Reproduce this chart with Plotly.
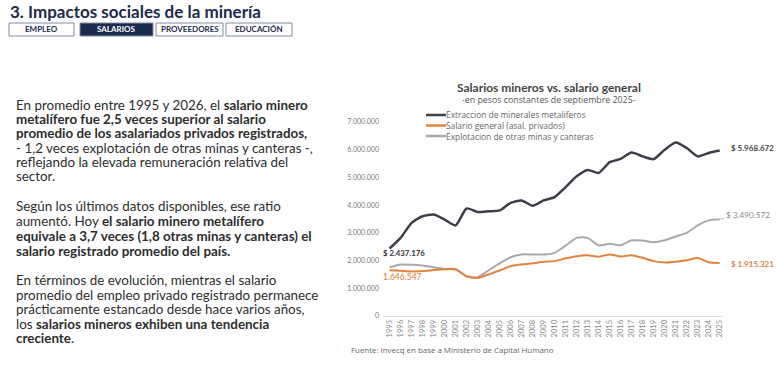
import plotly.graph_objects as go

years = list(range(1995, 2026))
metaliferos = [2437176, 2820000, 3360000, 3600000, 3660000, 3480000, 3270000, 3880000, 3750000, 3780000,
               3810000, 4080000, 4170000, 3980000, 4170000, 4290000, 4650000, 5040000, 5270000, 5160000,
               5550000, 5670000, 5900000, 5760000, 5660000, 6000000, 6260000, 6060000, 5760000, 5880000, 5968672]
salario_general = [1646547, 1630000, 1610000, 1620000, 1660000, 1690000, 1680000, 1440000, 1370000, 1500000,
                   1640000, 1800000, 1860000, 1900000, 1960000, 1980000, 2080000, 2160000, 2190000, 2140000,
                   2220000, 2150000, 2190000, 2100000, 1980000, 1930000, 1960000, 2010000, 2090000, 1940000, 1915321]
otras_minas = [1760000, 1860000, 1850000, 1820000, 1760000, 1700000, 1700000, 1420000, 1400000, 1650000,
               1900000, 2120000, 2220000, 2220000, 2220000, 2280000, 2540000, 2820000, 2820000, 2550000,
               2610000, 2550000, 2730000, 2720000, 2660000, 2730000, 2870000, 3000000, 3270000, 3450000, 3490572]
series_names = ["Extraccion de minerales metaliferos", "Salario general (asal. privados)",
                "Explotacion de otras minas y canteras"]
y_ticks = [0, 1000000, 2000000, 3000000, 4000000, 5000000, 6000000, 7000000]

C_BLACK = "#3b3f4a"
C_ORANGE = "#e4823f"
C_GRAY = "#a9a9a9"
NAVY = "#1c2a4e"
FONT = "Lato"
FONT2 = "Open Sans"

L, R, T, B = 383, 57, 122, 59
W, H = 780, 375

def px2x(px):
    return (px - L) / (W - L - R)

def py2y(py):
    return (H - B - py) / (H - T - B)

fig = go.Figure()
for vals, color, width, name in [(otras_minas, C_GRAY, 2, series_names[2]),
                                 (salario_general, C_ORANGE, 2, series_names[1]),
                                 (metaliferos, C_BLACK, 2.5, series_names[0])]:
    fig.add_trace(go.Scatter(x=years, y=vals, mode="lines", name=name,
                             line=dict(color=color, width=width, shape="spline", smoothing=0.6),
                             hoverinfo="skip"))

ann = []
shapes = []

# Page title
ann.append(dict(x=px2x(8), y=py2y(11), xref="paper", yref="paper", xanchor="left", yanchor="middle",
                text="<b>3. Impactos sociales de la minería</b>", showarrow=False,
                font=dict(family=FONT, size=17, color=NAVY)))
# Tabs
tabs = [("EMPLEO", 9, 74, False), ("SALARIOS", 80, 153, True),
        ("PROVEEDORES", 156, 223, False), ("EDUCACIÓN", 226, 292, False)]
for label, x0, x1, active in tabs:
    shapes.append(dict(type="rect", xref="paper", yref="paper", x0=px2x(x0), x1=px2x(x1),
                       y0=py2y(36), y1=py2y(23),
                       line=dict(color="#7f8aa6", width=1),
                       fillcolor=NAVY if active else "white", layer="above"))
    ann.append(dict(x=px2x((x0 + x1) / 2), y=py2y(29.5), xref="paper", yref="paper",
                    xanchor="center", yanchor="middle", text="<b>" + label + "</b>", showarrow=False,
                    font=dict(family=FONT, size=8, color="white" if active else NAVY)))

# Body text
body = [
    ("En promedio entre 1995 y 2026, el <b>salario minero</b>", 105),
    ("<b>metalífero fue 2,5 veces superior al salario</b>", 119),
    ("<b>promedio de los asalariados privados registrados,</b>", 133),
    ("- 1,2 veces explotación de otras minas y canteras -,", 147.5),
    ("reflejando la elevada remuneración relativa del", 162),
    ("sector.", 176),
    ("Según los últimos datos disponibles, ese ratio", 206),
    ("aumentó. Hoy <b>el salario minero metalífero</b>", 221),
    ("<b>equivale a 3,7 veces (1,8 otras minas y canteras) el</b>", 236),
    ("<b>salario registrado promedio del país.</b>", 250.5),
    ("En términos de evolución, mientras el salario", 280),
    ("promedio del empleo privado registrado permanece", 294.5),
    ("prácticamente estancado desde hace varios años,", 309),
    ("los <b>salarios mineros exhiben una tendencia</b>", 323.5),
    ("<b>creciente</b>.", 338),
]
for txt, yy in body:
    ann.append(dict(x=px2x(14), y=py2y(yy), xref="paper", yref="paper", xanchor="left", yanchor="middle",
                    text=txt, showarrow=False, font=dict(family=FONT, size=13.4, color="#2e2e2e")))

# Chart title
ann.append(dict(x=px2x(549), y=py2y(87.5), xref="paper", yref="paper", xanchor="center", yanchor="middle",
                text="<b>Salarios mineros vs. salario general</b>", showarrow=False,
                font=dict(family=FONT, size=12, color="#444444")))
ann.append(dict(x=px2x(549), y=py2y(100), xref="paper", yref="paper", xanchor="center", yanchor="middle",
                text="-en pesos constantes de septiembre 2025-", showarrow=False,
                font=dict(family=FONT2, size=8.8, color="#555555")))

# Manual legend
for i, (name, color) in enumerate([(series_names[0], C_BLACK), (series_names[1], C_ORANGE),
                                   (series_names[2], C_GRAY)]):
    yy = 115 + i * 10.5
    shapes.append(dict(type="line", xref="paper", yref="paper", x0=px2x(426), x1=px2x(446),
                       y0=py2y(yy), y1=py2y(yy), line=dict(color=color, width=2.5)))
    ann.append(dict(x=px2x(444), y=py2y(yy), xref="paper", yref="paper", xanchor="left", yanchor="middle",
                    text=name, showarrow=False, font=dict(family=FONT2, size=8.4, color="#666666")))

def fmt(v):
    return "{:,}".format(v).replace(",", ".")

# Value labels
ann.append(dict(x=years[0], y=metaliferos[0], xref="x", yref="y", xanchor="left", yanchor="middle",
                xshift=-9, yshift=-5, text="<b>$ " + fmt(metaliferos[0]) + "</b>", showarrow=False,
                font=dict(family=FONT, size=7.8, color="#333333")))
ann.append(dict(x=years[0], y=salario_general[0], xref="x", yref="y", xanchor="left", yanchor="middle",
                xshift=-9, yshift=-7, text=fmt(salario_general[0]), showarrow=False,
                font=dict(family=FONT, size=8.5, color="#e07a35")))
ann.append(dict(x=years[-1], y=metaliferos[-1], xref="x", yref="y", xanchor="left", yanchor="middle",
                xshift=9, yshift=3, text="<b>$ " + fmt(metaliferos[-1]) + "</b>", showarrow=False,
                font=dict(family=FONT, size=8, color="#444444")))
ann.append(dict(x=years[-1], y=otras_minas[-1], xref="x", yref="y",
                text="$ " + fmt(otras_minas[-1]), showarrow=True, arrowhead=0, arrowwidth=0.8,
                arrowcolor="#aaaaaa", ax=28, ay=-4, standoff=0,
                font=dict(family=FONT, size=8.2, color="#888888")))
ann.append(dict(x=years[-1], y=salario_general[-1], xref="x", yref="y", xanchor="left", yanchor="middle",
                xshift=9, yshift=-1, text="<b>$ " + fmt(salario_general[-1]) + "</b>", showarrow=False,
                font=dict(family=FONT, size=8, color=C_ORANGE)))

# Source
ann.append(dict(x=px2x(349), y=py2y(350), xref="paper", yref="paper", xanchor="left", yanchor="middle",
                text="Fuente: Invecq en base a Ministerio de Capital Humano", showarrow=False,
                font=dict(family=FONT2, size=7.9, color="#666666")))

fig.update_layout(
    width=W, height=H, margin=dict(l=L, r=R, t=T, b=B),
    paper_bgcolor="white", plot_bgcolor="white", showlegend=False,
    separators=",.", font=dict(family=FONT),
    annotations=ann, shapes=shapes,
    xaxis=dict(range=[1994.4, 2025.3], tickvals=years, ticktext=[str(y) for y in years],
               tickangle=-90, tickfont=dict(size=7.5, color="#888888"), showgrid=False,
               zeroline=False, showline=True, linecolor="#dddddd", linewidth=1, ticks=""),
    yaxis=dict(range=[0, 7000000], tickvals=y_ticks, tickformat=",d", showgrid=False, zeroline=False,
               showline=False, tickfont=dict(size=7, color="#777777"), ticklabelstandoff=3),
)

fig.write_html("out.html", config={"displayModeBar": False},
               post_script="document.body.style.margin='0';")
